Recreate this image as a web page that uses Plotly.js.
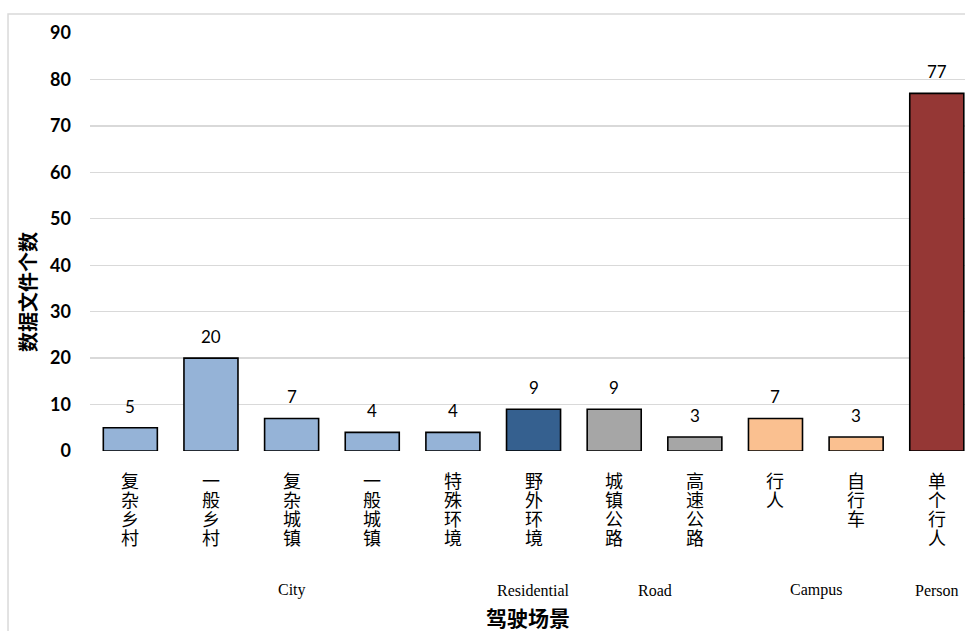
<!DOCTYPE html>
<html>
<head>
<meta charset="utf-8">
<script src="https://cdn.plot.ly/plotly-3.0.1.min.js"></script>
<style>html,body{margin:0;padding:0;background:#fff;}#chart{width:965px;height:631px;}</style>
</head>
<body>
<div id="chart"></div>
<script>
// Data
const categories = ["复杂乡村","一般乡村","复杂城镇","一般城镇","特殊环境","野外环境","城镇公路","高速公路","行人","自行车","单个行人"];
const values = [5, 20, 7, 4, 4, 9, 9, 3, 7, 3, 77];
const barColors = ["#95B3D7","#95B3D7","#95B3D7","#95B3D7","#95B3D7","#35608F","#A6A6A6","#A6A6A6","#FAC090","#FAC090","#953735"];
const groupNames = ["City","Residential","Road","Campus","Person"];
const groupMembers = [[0,1,2,3,4],[5],[6,7],[8,9],[10]];
const yTicks = [0,10,20,30,40,50,60,70,80,90];
const yTitle = "数据文件个数";
const xTitle = "驾驶场景";

const annotations = [];
const charMeta = {};   // annotation index -> character row
// value labels
categories.forEach((c,i)=>{
  annotations.push({x:i, y:values[i], xref:'x', yref:'y', text:String(values[i]), showarrow:false,
    yanchor:'bottom', yshift:9, font:{family:'Lato, Noto Sans, sans-serif', size:17, color:'#000'}});
});
// category labels, one character per annotation, stacked vertically
const charPitch = 18.7;
categories.forEach((c,i)=>{
  Array.from(c).forEach((ch,j)=>{
    charMeta[annotations.length] = j;
    annotations.push({x:i, y:0, xref:'x', yref:'paper', text:ch, showarrow:false,
      yanchor:'top', yshift:-(19 + j*charPitch), borderpad:0,
      font:{family:'Noto Sans CJK SC, sans-serif', size:18, color:'#000'}});
  });
});
// group labels
groupNames.forEach((g,k)=>{
  const m = groupMembers[k];
  const cx = m.reduce((a,b)=>a+b,0)/m.length;
  annotations.push({x:cx, y:0, xref:'x', yref:'paper', text:g, showarrow:false,
    yanchor:'middle', yshift:-139, font:{family:'Liberation Serif, serif', size:16, color:'#000'}});
});
// axis titles
annotations.push({x:0.5, y:0, xref:'paper', yref:'paper', text:'<b>'+xTitle+'</b>', showarrow:false,
  yanchor:'middle', yshift:-166, font:{family:'Noto Sans CJK SC, sans-serif', size:21, color:'#000'}});
annotations.push({x:0, y:0.5, xref:'paper', yref:'paper', text:'<b>'+yTitle+'</b>', showarrow:false,
  textangle:-90, xanchor:'center', yanchor:'middle', xshift:-63, yshift:-50,
  font:{family:'Noto Sans CJK SC, sans-serif', size:20, color:'#000'}});

const trace = {
  type:'bar', x:categories.map((c,i)=>i), y:values,
  marker:{color:barColors, line:{color:'#000', width:1.6}},
  width:0.67, hoverinfo:'none'
};

const layout = {
  width:965, height:631,
  margin:{l:90, r:0, t:33, b:180},
  paper_bgcolor:'#fff', plot_bgcolor:'#fff',
  showlegend:false,
  xaxis:{range:[-0.5,10.35], showticklabels:false, showgrid:false, zeroline:false, showline:false, ticks:''},
  yaxis:{range:[0,90], tickvals:yTicks, showgrid:true, gridcolor:'#D9D9D9', gridwidth:1.3, zeroline:false, showline:false,
    ticks:'', ticklabelstandoff:18, tickfont:{family:'Lato, Noto Sans, sans-serif', size:18, color:'#000', weight:'bold'}},
  annotations: annotations,
  shapes:[{type:'rect', xref:'paper', yref:'paper', x0:-0.0937, x1:1.02, y0:-0.46, y1:1.0455,
    line:{color:'#D9D9D9', width:1.5}, fillcolor:'rgba(0,0,0,0)', layer:'below'}]
};

Plotly.newPlot('chart', [trace], layout, {staticPlot:true}).then(gd=>{
  // use vertical writing for the single-character labels so each glyph box is one em tall
  const fl = gd._fullLayout;
  const bottom = fl._size.t + fl._size.h;
  const svgRect = gd.querySelector('.main-svg').getBoundingClientRect();
  gd.querySelectorAll('.annotation').forEach(a=>{
    const idx = +a.getAttribute('data-index');
    if(!(idx in charMeta)) return;
    const t = a.querySelector('.annotation-text');
    if(!t) return;
    const b = t.getBoundingClientRect();
    const cx = b.left + b.width/2;
    t.style.writingMode = 'vertical-rl';
    t.style.textAnchor = 'middle';
    const a2 = t.getBoundingClientRect();
    const targetCy = svgRect.top + bottom + 30.5 + charMeta[idx]*charPitch;
    const dx = cx - (a2.left + a2.width/2);
    const dy = targetCy - (a2.top + a2.height/2);
    t.setAttribute('transform', 'translate(' + dx + ',' + dy + ')');
  });
});
</script>
</body>
</html>
